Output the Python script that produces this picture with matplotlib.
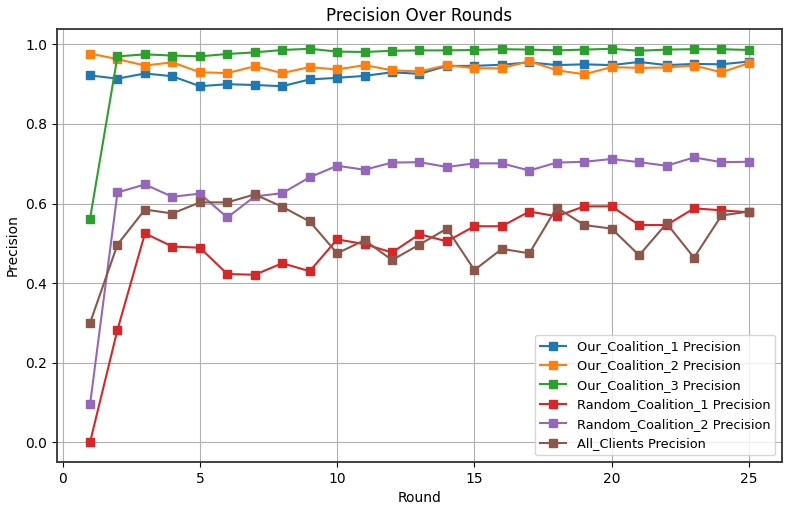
import matplotlib
matplotlib.use("Agg")
import matplotlib.pyplot as plt

rounds = list(range(1, 26))

our_coalition_1 = [0.922, 0.914, 0.927, 0.920, 0.895, 0.900, 0.898, 0.895, 0.912, 0.916,
                   0.921, 0.930, 0.926, 0.946, 0.946, 0.949, 0.955, 0.948, 0.950, 0.948,
                   0.956, 0.948, 0.951, 0.950, 0.957]
our_coalition_2 = [0.977, 0.963, 0.947, 0.955, 0.930, 0.928, 0.945, 0.928, 0.943, 0.937,
                   0.948, 0.935, 0.932, 0.948, 0.940, 0.940, 0.958, 0.935, 0.925, 0.943,
                   0.941, 0.942, 0.947, 0.930, 0.953]
our_coalition_3 = [0.562, 0.970, 0.975, 0.972, 0.970, 0.976, 0.980, 0.986, 0.989, 0.982,
                   0.981, 0.984, 0.985, 0.985, 0.986, 0.988, 0.987, 0.985, 0.987, 0.989,
                   0.984, 0.987, 0.988, 0.988, 0.986]
random_coalition_1 = [0.000, 0.283, 0.525, 0.492, 0.489, 0.423, 0.421, 0.450, 0.430, 0.510,
                      0.498, 0.477, 0.523, 0.505, 0.543, 0.543, 0.580, 0.568, 0.593, 0.593,
                      0.546, 0.546, 0.588, 0.583, 0.578]
random_coalition_2 = [0.095, 0.628, 0.648, 0.617, 0.625, 0.565, 0.618, 0.626, 0.666, 0.695,
                      0.685, 0.703, 0.704, 0.692, 0.701, 0.701, 0.683, 0.703, 0.705, 0.712,
                      0.704, 0.695, 0.716, 0.704, 0.705]
all_clients = [0.300, 0.497, 0.585, 0.575, 0.603, 0.603, 0.623, 0.592, 0.555, 0.475,
               0.508, 0.458, 0.497, 0.537, 0.433, 0.486, 0.475, 0.590, 0.546, 0.537,
               0.470, 0.550, 0.464, 0.570, 0.580]

series = [
    ("Our_Coalition_1 Precision", our_coalition_1),
    ("Our_Coalition_2 Precision", our_coalition_2),
    ("Our_Coalition_3 Precision", our_coalition_3),
    ("Random_Coalition_1 Precision", random_coalition_1),
    ("Random_Coalition_2 Precision", random_coalition_2),
    ("All_Clients Precision", all_clients),
]

fig, ax = plt.subplots(figsize=(7.93, 5.11), dpi=100)
for name, vals in series:
    ax.plot(rounds, vals, marker="s", markersize=6, label=name)

ax.set_title("Precision Over Rounds")
ax.set_xlabel("Round")
ax.set_ylabel("Precision")
ax.grid(True)
for sp in ax.spines.values():
    sp.set_linewidth(1.3)
    sp.set_color("#333333")
ax.legend(loc="lower right", fontsize=9.3)
fig.subplots_adjust(left=0.072, right=0.986, top=0.943, bottom=0.096)
fig.savefig("out.png", dpi=100)
